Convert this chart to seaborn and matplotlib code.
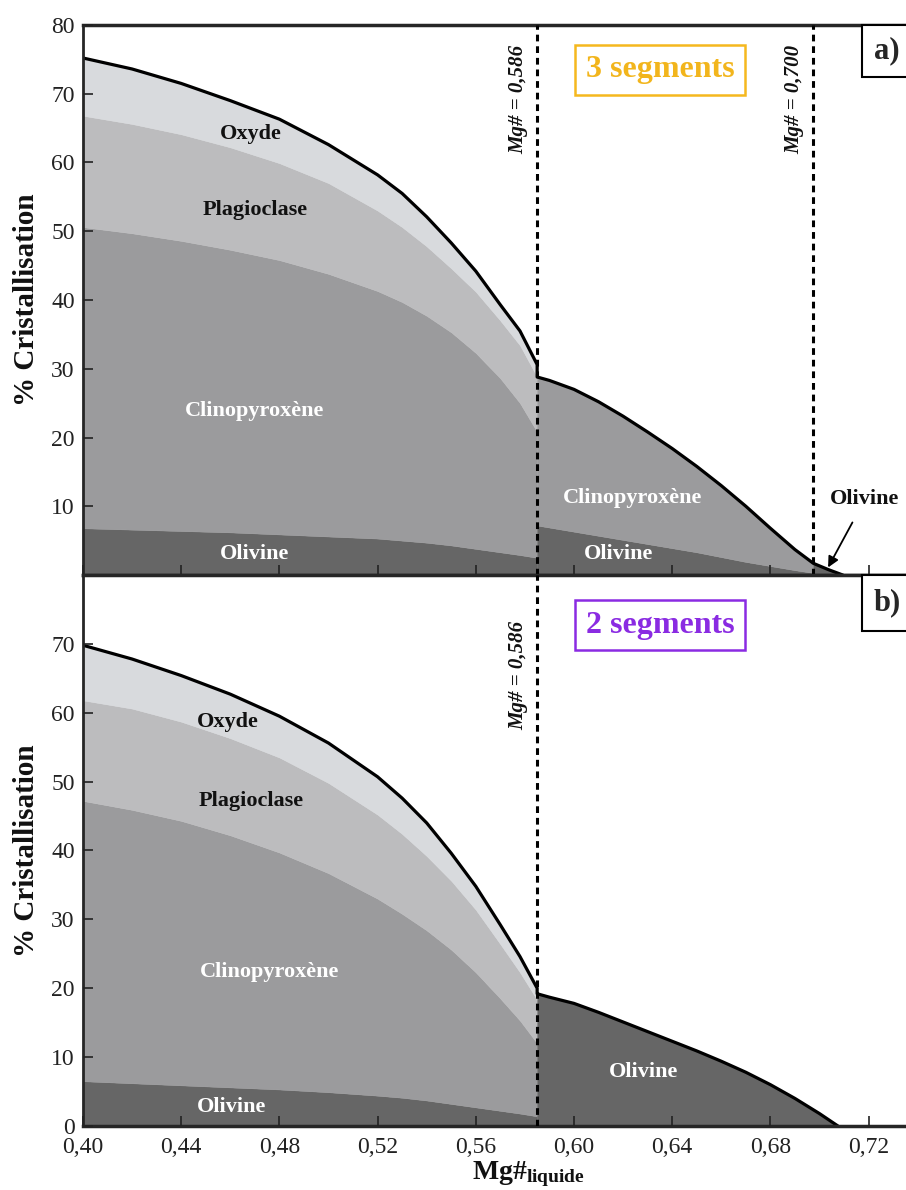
import numpy as np
import pandas as pd
import seaborn as sns
import matplotlib.pyplot as plt
from matplotlib.patches import Rectangle

# --- données ---
# panneau a) segment 1 (Mg# 0,40 -> 0,586)
a1_x = [0.40, 0.42, 0.44, 0.46, 0.48, 0.50, 0.52, 0.53, 0.54, 0.55, 0.56, 0.57, 0.578, 0.585]
a1_olivine = [6.8, 6.6, 6.4, 6.2, 5.9, 5.6, 5.3, 5.0, 4.7, 4.3, 3.8, 3.3, 2.9, 2.5]
a1_cpx = [50.6, 49.7, 48.6, 47.3, 45.8, 43.8, 41.3, 39.7, 37.7, 35.3, 32.3, 28.6, 25.0, 20.8]
a1_plag = [66.8, 65.6, 64.1, 62.2, 59.9, 57.0, 53.0, 50.6, 47.8, 44.6, 41.2, 37.0, 33.4, 28.8]
a1_oxyde = [75.2, 73.6, 71.5, 69.0, 66.3, 62.6, 58.2, 55.5, 52.1, 48.3, 44.2, 39.3, 35.5, 30.6]

# panneau a) segment 2 (0,586 -> 0,700)
a2_x = [0.585, 0.59, 0.60, 0.61, 0.62, 0.63, 0.64, 0.65, 0.66, 0.67, 0.68, 0.69, 0.6975]
a2_olivine = [7.2, 6.9, 6.3, 5.7, 5.1, 4.5, 3.9, 3.3, 2.6, 1.9, 1.3, 0.7, 0.3]
a2_cpx = [28.8, 28.3, 27.0, 25.2, 23.1, 20.8, 18.4, 15.8, 13.0, 10.0, 6.8, 3.7, 1.7]

# panneau a) segment 3 (> 0,700)
a3_x = [0.6975, 0.7035, 0.7095]
a3_olivine = [1.7, 0.8, 0.0]

# panneau b) segment 1
b1_x = [0.40, 0.42, 0.44, 0.46, 0.48, 0.50, 0.52, 0.53, 0.54, 0.55, 0.56, 0.57, 0.578, 0.585]
b1_olivine = [6.5, 6.2, 5.9, 5.6, 5.3, 4.9, 4.4, 4.1, 3.7, 3.2, 2.7, 2.2, 1.8, 1.4]
b1_cpx = [47.2, 45.9, 44.3, 42.2, 39.7, 36.7, 33.0, 30.8, 28.4, 25.6, 22.3, 18.5, 15.3, 12.0]
b1_plag = [61.8, 60.6, 58.7, 56.3, 53.5, 49.8, 45.2, 42.4, 39.2, 35.6, 31.4, 26.4, 22.3, 18.3]
b1_oxyde = [69.8, 67.8, 65.4, 62.7, 59.5, 55.6, 50.7, 47.6, 44.0, 39.6, 34.8, 29.2, 24.6, 20.0]

# panneau b) segment 2
b2_x = [0.585, 0.59, 0.60, 0.61, 0.62, 0.63, 0.64, 0.65, 0.66, 0.67, 0.68, 0.69, 0.70, 0.7075]
b2_olivine = [19.2, 18.7, 17.8, 16.5, 15.1, 13.7, 12.3, 10.9, 9.4, 7.8, 6.0, 4.0, 1.8, 0.0]

x_ticks = [0.40, 0.44, 0.48, 0.52, 0.56, 0.60, 0.64, 0.68, 0.72]
x_tick_labels = ['0,40', '0,44', '0,48', '0,52', '0,56', '0,60', '0,64', '0,68', '0,72']
a_yticks = [10, 20, 30, 40, 50, 60, 70, 80]
b_yticks = [0, 10, 20, 30, 40, 50, 60, 70]

mg_limits_a = [0.585, 0.6975]
mg_limits_a_labels = ['Mg# = 0,586', 'Mg# = 0,700']
mg_limits_b = [0.585]
mg_limits_b_labels = ['Mg# = 0,586']

colors = {'olivine': '#666666', 'cpx': '#9b9b9d', 'plag': '#bcbcbe', 'oxyde': '#d8dadd'}

sns.set_theme(style='ticks')
plt.rcParams['font.family'] = ['Liberation Serif', 'DejaVu Serif']
plt.rcParams['mathtext.fontset'] = 'custom'
plt.rcParams['mathtext.rm'] = 'Liberation Serif'
plt.rcParams['mathtext.bf'] = 'Liberation Serif:bold'


def remplir(ax, x, couches):
    # couches = liste (sommet cumulé, couleur), de bas en haut
    bas = np.zeros(len(x))
    for haut, c in couches:
        ax.fill_between(x, bas, haut, color=c, edgecolor=c, lw=0.3)
        bas = np.array(haut)


fig = plt.figure(figsize=(9.06, 11.90), dpi=100)
ax_a = fig.add_axes([0.0916, 0.5168, 0.9484, 0.4622])
ax_b = fig.add_axes([0.0916, 0.0538, 0.9484, 0.4630], sharex=ax_a)

# panneau a
remplir(ax_a, a1_x, [(a1_olivine, colors['olivine']), (a1_cpx, colors['cpx']),
                     (a1_plag, colors['plag']), (a1_oxyde, colors['oxyde'])])
remplir(ax_a, a2_x, [(a2_olivine, colors['olivine']), (a2_cpx, colors['cpx'])])
remplir(ax_a, a3_x, [(a3_olivine, colors['olivine'])])
contour_a = pd.DataFrame({'x': a1_x + a2_x + a3_x, 'y': a1_oxyde + a2_cpx + a3_olivine})
sns.lineplot(data=contour_a, x='x', y='y', ax=ax_a, estimator=None, sort=False,
             color='black', lw=2.3)

# panneau b
remplir(ax_b, b1_x, [(b1_olivine, colors['olivine']), (b1_cpx, colors['cpx']),
                     (b1_plag, colors['plag']), (b1_oxyde, colors['oxyde'])])
remplir(ax_b, b2_x, [(b2_olivine, colors['olivine'])])
contour_b = pd.DataFrame({'x': b1_x + b2_x, 'y': b1_oxyde + b2_olivine})
sns.lineplot(data=contour_b, x='x', y='y', ax=ax_b, estimator=None, sort=False,
             color='black', lw=2.3)

# lignes Mg# pointillées + étiquettes
for ax, xs, labs, ylab in [(ax_a, mg_limits_a, mg_limits_a_labels, 69.2),
                           (ax_b, mg_limits_b, mg_limits_b_labels, 65.4)]:
    for xv, lab in zip(xs, labs):
        ax.axvline(xv, color='black', lw=2.2, ls=(0, (2.2, 1.6)), zorder=5)
        ax.text(xv - 0.0076, ylab, lab, rotation=90, ha='center', va='center',
                fontsize=15, fontweight='bold', fontstyle='italic', color='#111111')

# noms des phases
lbl = dict(fontsize=16, fontweight='bold', ha='center', va='center')
ax_a.text(0.4685, 64.1, 'Oxyde', color='#111111', **lbl)
ax_a.text(0.470, 53.1, 'Plagioclase', color='#111111', **lbl)
ax_a.text(0.470, 23.8, 'Clinopyroxène', color='white', **lbl)
ax_a.text(0.470, 3.0, 'Olivine', color='white', **lbl)
ax_a.text(0.624, 11.2, 'Clinopyroxène', color='white', **lbl)
ax_a.text(0.618, 3.0, 'Olivine', color='white', **lbl)
ax_a.annotate('Olivine', xy=(0.7035, 1.1), xytext=(0.7185, 11.0), color='#111111',
              arrowprops=dict(arrowstyle='-|>', color='black', lw=1.3,
                              mutation_scale=16, shrinkA=8, shrinkB=0), **lbl)

ax_b.text(0.459, 58.6, 'Oxyde', color='#111111', **lbl)
ax_b.text(0.4685, 47.2, 'Plagioclase', color='#111111', **lbl)
ax_b.text(0.476, 22.3, 'Clinopyroxène', color='white', **lbl)
ax_b.text(0.4605, 2.8, 'Olivine', color='white', **lbl)
ax_b.text(0.6285, 7.9, 'Olivine', color='white', **lbl)

# encadrés "segments"
ax_a.text(0.635, 73.5, '3 segments', fontsize=23, fontweight='bold', color='#f2b51c',
          ha='center', va='center',
          bbox=dict(boxstyle='square,pad=0.33', fc='white', ec='#f5b81e', lw=1.8))
ax_b.text(0.635, 72.7, '2 segments', fontsize=23, fontweight='bold', color='#8a2be2',
          ha='center', va='center',
          bbox=dict(boxstyle='square,pad=0.33', fc='white', ec='#8a2be2', lw=1.8))

# étiquettes a) b)
for ax, lab, y0 in [(ax_a, 'a)', 0.9055), (ax_b, 'b)', 0.898)]:
    ax.add_patch(Rectangle((0.9066, y0), 0.2, 1 - y0, transform=ax.transAxes,
                           fc='white', ec='black', lw=1.5, clip_on=False, zorder=6))
    ax.text(0.9205, (1 + y0) / 2, lab, transform=ax.transAxes, fontsize=22,
            fontweight='bold', ha='left', va='center', zorder=7)

# axes
for ax in (ax_a, ax_b):
    ax.set_axisbelow(False)
    ax.set_xlim(0.40, 0.75)
    ax.set_ylim(0, 80)
    ax.set_xticks(x_ticks)
    ax.tick_params(direction='in', length=7, width=1.2, labelsize=17,
                   labelcolor='#222222', color='#222222', pad=6)
    ax.tick_params(axis='x', pad=8)
    ax.spines['right'].set_visible(False)
    ax.spines['left'].set_linewidth(2)
    ax.spines['top'].set_linewidth(2.5)
    ax.spines['bottom'].set_linewidth(2.5)
    ax.set_ylabel('% Cristallisation', fontsize=21, fontweight='bold', color='#111111')
    ax.yaxis.set_label_coords(-0.050, 0.5)
    ax.set_xlabel('')

ax_a.set_yticks(a_yticks)
ax_b.set_yticks(b_yticks)
ax_a.tick_params(labelbottom=False)
ax_b.set_xticklabels(x_tick_labels)
ax_b.set_xlabel(r'$\mathbf{Mg\#_{liquide}}$', fontsize=20, color='#111111')
ax_b.xaxis.set_label_coords(0.519, -0.060)

fig.savefig('out.png', dpi=100)
